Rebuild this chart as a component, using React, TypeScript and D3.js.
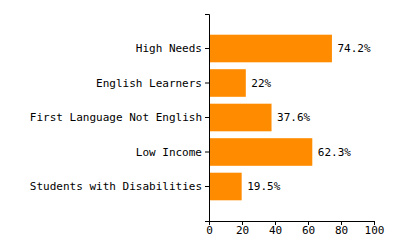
import React, { useEffect, useRef } from "react";
import * as d3 from "d3";

const categories = [
  "High Needs",
  "English Learners",
  "First Language Not English",
  "Low Income",
  "Students with Disabilities",
];
const values = [74.2, 22, 37.6, 62.3, 19.5];
const valueLabels = ["74.2%", "22%", "37.6%", "62.3%", "19.5%"];
const xTicks = [0, 20, 40, 60, 80, 100];

const FONT = "'DejaVu Sans Mono', monospace";

export default function App() {
  const ref = useRef<SVGSVGElement>(null);

  useEffect(() => {
    const svg = d3.select(ref.current);
    svg.selectAll("*").remove();

    const x = d3.scaleLinear().domain([0, 100]).range([209, 374]);
    const y = d3
      .scaleBand<string>()
      .domain(categories)
      .range([14, 221])
      .paddingInner(0.2)
      .paddingOuter(0.6);

    svg
      .append("g")
      .selectAll("rect")
      .data(values)
      .join("rect")
      .attr("x", x(0) + 0.5)
      .attr("y", (_, i) => y(categories[i])!)
      .attr("width", (d) => x(d) - x(0))
      .attr("height", y.bandwidth())
      .attr("fill", "#ff8c00");

    svg
      .append("g")
      .selectAll("text")
      .data(values)
      .join("text")
      .attr("x", (d) => x(d) + 6)
      .attr("y", (_, i) => y(categories[i])! + y.bandwidth() / 2)
      .attr("dy", "0.35em")
      .attr("font-family", FONT)
      .attr("font-size", 11)
      .attr("fill", "#000")
      .text((_, i) => valueLabels[i]);

    const yAxis = svg
      .append("g")
      .attr("transform", "translate(209,0)")
      .call(d3.axisLeft(y).tickSize(4).tickPadding(3));
    yAxis.selectAll("text").attr("font-family", FONT).attr("font-size", 11);

    const xAxis = svg
      .append("g")
      .attr("transform", "translate(0,221)")
      .call(d3.axisBottom(x).tickValues(xTicks).tickSize(4).tickPadding(1));
    xAxis.selectAll("text").attr("font-family", FONT).attr("font-size", 11);
  }, []);

  return (
    <svg
      ref={ref}
      width={400}
      height={250}
      style={{ position: "absolute", left: 0, top: 0, background: "#fff" }}
    />
  );
}
